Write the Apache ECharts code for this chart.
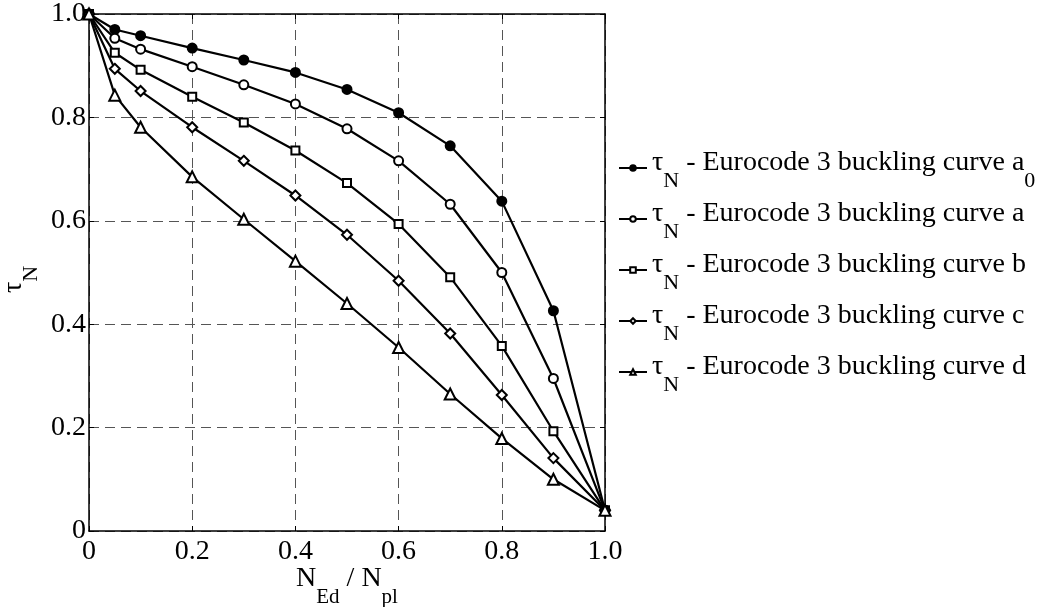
<!DOCTYPE html>
<html>
<head>
<meta charset="utf-8">
<script src="https://cdn.jsdelivr.net/npm/echarts@6/dist/echarts.min.js"></script>
<style>
html,body{margin:0;padding:0;background:#fff;}
#chart{width:1043px;height:607px;}
</style>
</head>
<body>
<div id="chart"></div>
<script>
// ---- data ----
const xValues = [0, 0.05, 0.1, 0.2, 0.3, 0.4, 0.5, 0.6, 0.7, 0.8, 0.9, 1.0];
const curveA0 = [1.0, 0.970, 0.958, 0.934, 0.911, 0.887, 0.854, 0.809, 0.745, 0.638, 0.426, 0.04];
const curveA  = [1.0, 0.953, 0.932, 0.898, 0.863, 0.826, 0.778, 0.716, 0.632, 0.500, 0.295, 0.04];
const curveB  = [1.0, 0.925, 0.892, 0.840, 0.790, 0.736, 0.673, 0.594, 0.491, 0.358, 0.193, 0.04];
const curveC  = [1.0, 0.894, 0.851, 0.781, 0.716, 0.649, 0.573, 0.484, 0.382, 0.263, 0.141, 0.04];
const curveD  = [1.0, 0.843, 0.781, 0.685, 0.603, 0.522, 0.440, 0.355, 0.265, 0.179, 0.100, 0.04];
const seriesNames = ['curve a0', 'curve a', 'curve b', 'curve c', 'curve d'];
const legendSuffix = ['a', 'a', 'b', 'c', 'd'];
const legendSub = ['0', '', '', '', ''];
const xTickLabels = {0: '0', 0.2: '0.2', 0.4: '0.4', 0.6: '0.6', 0.8: '0.8', 1: '1.0'};
const yTickLabels = {0: '0', 0.2: '0.2', 0.4: '0.4', 0.6: '0.6', 0.8: '0.8', 1: '1.0'};

const FONT = 'Liberation Serif';
const symbols = ['circle', 'emptyCircle', 'emptyRect', 'emptyDiamond', 'emptyTriangle'];
const symbolSizes = [9, 9, 8, 10, 11];
const allCurves = [curveA0, curveA, curveB, curveC, curveD];

function fmtTick(map) {
  return function (v) {
    const k = Math.round(v * 10) / 10;
    return map[k] !== undefined ? map[k] : '';
  };
}

const series = allCurves.map((vals, i) => ({
  name: seriesNames[i],
  type: 'line',
  xAxisIndex: 0,
  yAxisIndex: 0,
  data: xValues.map((x, j) => [x, vals[j]]),
  symbol: symbols[i],
  symbolSize: symbolSizes[i],
  showAllSymbol: true,
  lineStyle: {color: '#000', width: 2.2},
  itemStyle: {color: '#000', borderColor: '#000', borderWidth: 2},
  emphasis: {disabled: true},
  z: 3
}));

const axisCommon = {
  type: 'value', min: 0, max: 1, interval: 0.2,
  axisLine: {show: true, onZero: false, lineStyle: {color: '#000', width: 1.5}},
  axisTick: {show: true, inside: true, length: 5, lineStyle: {color: '#000', width: 1}},
};

const chart = echarts.init(document.getElementById('chart'), null, {renderer: 'canvas'});
chart.setOption({
  animation: false,
  backgroundColor: '#fff',
  grid: {left: 89, top: 14, right: 438, bottom: 76, containLabel: false, outerBoundsMode: 'none'},
  xAxis: [
    Object.assign({}, axisCommon, {
      position: 'bottom',
      axisLabel: {show: true, formatter: fmtTick(xTickLabels), fontFamily: FONT, fontSize: 28, color: '#000', margin: 7},
      splitLine: {show: true, lineStyle: {color: '#555', width: 1, type: [10, 6]}},
      name: '{n|N}{s|Ed}{n| / N}{s|pl}',
      nameLocation: 'middle',
      nameGap: 34,
      nameMoveOverlap: false,
      nameTextStyle: {
        fontFamily: FONT, color: '#000',
        rich: {
          n: {fontFamily: FONT, fontSize: 28, lineHeight: 28, verticalAlign: 'top', color: '#000'},
          s: {fontFamily: FONT, fontSize: 21, lineHeight: 21, padding: [22, 0, 0, 0], verticalAlign: 'top', color: '#000'}
        }
      }
    }),
    Object.assign({}, axisCommon, {
      position: 'top',
      axisLabel: {show: false},
      splitLine: {show: false}
    })
  ],
  yAxis: [
    Object.assign({}, axisCommon, {
      position: 'left',
      axisLabel: {show: true, formatter: fmtTick(yTickLabels), fontFamily: FONT, fontSize: 28, color: '#000', margin: 3},
      splitLine: {show: true, lineStyle: {color: '#555', width: 1, type: [10, 6]}},
      name: '{t|τ}{s|N}',
      nameLocation: 'middle',
      nameGap: 61,
      nameMoveOverlap: false,
      nameTextStyle: {
        fontFamily: FONT, color: '#000',
        padding: [0, 14, 0, 0],
        rich: {
          t: {fontFamily: FONT, fontSize: 28, lineHeight: 28, verticalAlign: 'top', color: '#000'},
          s: {fontFamily: FONT, fontSize: 22, lineHeight: 22, padding: [20, 0, 0, 0], verticalAlign: 'top', color: '#000'}
        }
      }
    }),
    Object.assign({}, axisCommon, {
      position: 'right',
      axisLabel: {show: false},
      splitLine: {show: false}
    })
  ],
  legend: {
    show: true,
    orient: 'vertical',
    left: 618,
    top: 144,
    itemWidth: 28,
    itemHeight: 7,
    itemGap: 3,
    padding: 0,
    selectedMode: false,
    data: seriesNames,
    formatter: function (name) {
      const i = seriesNames.indexOf(name);
      let s = '{t|τ}{s|N}{m| - Eurocode 3 buckling curve ' + legendSuffix[i] + '}';
      if (legendSub[i]) s += '{s|' + legendSub[i] + '}';
      return s;
    },
    textStyle: {
      fontFamily: FONT, color: '#000', fontSize: 28,
      rich: {
        t: {fontFamily: FONT, fontSize: 28, lineHeight: 48, padding: [4.3, 0, 0, 0], verticalAlign: 'top', color: '#000'},
        m: {fontFamily: FONT, fontSize: 28, lineHeight: 48, padding: [4.3, 0, 0, 0], verticalAlign: 'top', color: '#000'},
        s: {fontFamily: FONT, fontSize: 22, lineHeight: 22, verticalAlign: 'bottom', color: '#000'}
      }
    }
  },
  series: series
});
</script>
</body>
</html>
